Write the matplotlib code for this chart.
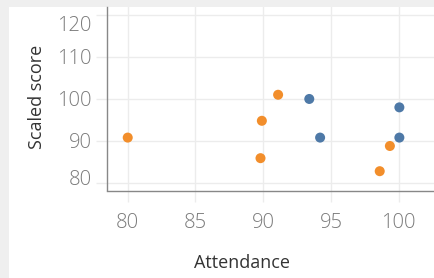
import matplotlib
matplotlib.use("Agg")
import matplotlib.pyplot as plt
import matplotlib.transforms as mtransforms

# Data
orange_x = [80.0, 91.1, 89.9, 89.8, 99.35, 98.6]
orange_y = [90.7, 100.9, 94.7, 85.8, 88.7, 82.7]
blue_x = [93.4, 94.2, 100.05, 100.05]
blue_y = [99.9, 90.7, 97.9, 90.7]

x_ticks = [80, 85, 90, 95, 100]
y_ticks = [80, 90, 100, 110, 120]

ORANGE = "#f28e2b"
BLUE = "#4e79a7"
GRID = "#ececec"
TICK_TEXT = "#7a7a7a"

W, H = 435, 278
fig = plt.figure(figsize=(W / 100, H / 100), dpi=100)
fig.patch.set_facecolor("#efefef")

# white panel
panel = plt.Rectangle((9 / W, 0), 1 - 9 / W, 1 - 7 / H, transform=fig.transFigure,
                      facecolor="white", edgecolor="none", zorder=-10)
fig.patches.append(panel)

ax = fig.add_axes([107 / W, (H - 190.5) / H, (W - 107) / W, (190.5 - 7) / H])
ax.set_facecolor("white")

ax.scatter(orange_x, orange_y, s=52, color=ORANGE, edgecolors="none", zorder=3)
ax.scatter(blue_x, blue_y, s=52, color=BLUE, edgecolors="none", zorder=3)

ax.set_xlim(78.47, 102.68)
ax.set_ylim(78.1, 121.8)
ax.set_xticks(x_ticks)
ax.set_yticks(y_ticks)
ax.set_xticklabels([str(v) for v in x_ticks])
ax.set_yticklabels([str(v) for v in y_ticks])

ax.grid(True, color=GRID, linewidth=1)
ax.set_axisbelow(True)
ax.tick_params(axis="both", color=GRID, length=8, width=1,
               labelcolor=TICK_TEXT, labelsize=14.5)
ax.tick_params(axis="x", pad=8)
ax.tick_params(axis="y", pad=3)
for lab in ax.get_xticklabels() + ax.get_yticklabels():
    lab.set_fontfamily("Open Sans")
    lab.set_fontweight("light")

for side in ["top", "right"]:
    ax.spines[side].set_visible(False)
for side in ["left", "bottom"]:
    ax.spines[side].set_color("#888888")
    ax.spines[side].set_linewidth(1)

# Tableau nudges the edge labels inside the pane
yt = ax.yaxis.get_major_ticks()
yt[-1].label1.set_transform(yt[-1].label1.get_transform()
                            + mtransforms.ScaledTranslation(0, -9 / 100, fig.dpi_scale_trans))
yt[0].label1.set_transform(yt[0].label1.get_transform()
                           + mtransforms.ScaledTranslation(0, 5 / 100, fig.dpi_scale_trans))

fig.text(242 / W, 1 - 263 / H, "Attendance", ha="center", va="center",
         fontsize=13, color="#333333", family="Open Sans")
fig.text(37 / W, 1 - 97 / H, "Scaled score", ha="center", va="center",
         rotation=90, fontsize=13, color="#333333", family="Open Sans")

fig.savefig("out.png", dpi=100, facecolor=fig.get_facecolor())
